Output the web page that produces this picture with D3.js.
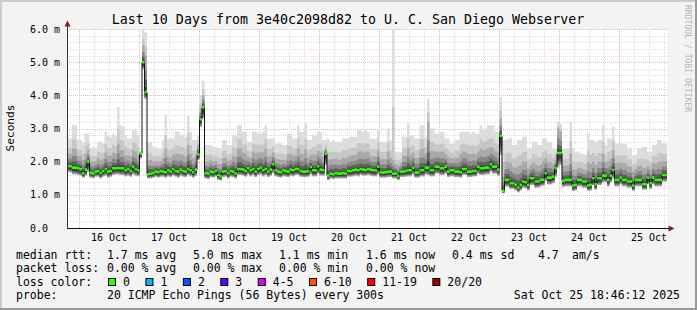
<!DOCTYPE html>
<html>
<head>
<meta charset="utf-8">
<title>smokeping 10 days</title>
<script src="https://cdn.jsdelivr.net/npm/d3@7"></script>
<style>
  body { margin: 0; background: #f3f3f3; }
  svg { display: block; font-family: "DejaVu Sans Mono", monospace; }
  .ylab, .xlab { font-size: 10px; fill: #000; }
  .legend text { font-size: 11.5px; fill: #000; }
</style>
</head>
<body>
<svg width="697" height="310"></svg>
<script>
var title = 'Last 10 Days from 3e40c2098d82 to U. C. San Diego Webserver';
var endTime = Date.UTC(2025, 9, 25, 19, 12);
var days = 10;

var yTicks = [0, 1, 2, 3, 4, 5, 6];
var yTickLabels = ['0.0', '1.0 m', '2.0 m', '3.0 m', '4.0 m', '5.0 m', '6.0 m'];
var xTickLabels = ['16 Oct', '17 Oct', '18 Oct', '19 Oct', '20 Oct', '21 Oct', '22 Oct', '23 Oct', '24 Oct', '25 Oct'];

// hourly median rtt (ms)
var median = [
  1.87,1.86,1.82,1.82,1.80,1.77,1.65,1.76,2.00,1.67,
  1.64,1.70,1.72,1.66,1.72,1.78,1.70,1.72,1.80,1.80,
  1.81,1.80,1.80,1.74,1.78,1.72,1.85,1.78,1.74,2.24,
  5.00,4.10,1.62,1.64,1.66,1.70,1.68,1.72,1.70,1.68,
  1.74,1.70,1.78,1.72,1.70,1.76,1.72,1.70,1.78,1.74,
  1.68,1.76,2.22,3.28,3.64,1.66,1.64,1.70,1.68,1.72,
  1.60,1.56,1.70,1.72,1.66,1.72,1.70,1.64,1.78,1.78,
  1.76,1.72,1.80,1.74,1.78,1.70,1.78,1.82,1.74,1.78,
  1.70,1.76,1.92,1.74,1.70,1.68,1.74,1.72,1.70,1.76,
  1.74,1.78,1.78,1.72,1.70,1.70,1.72,1.84,1.74,1.74,
  1.86,1.76,1.75,2.24,1.58,1.64,1.62,1.66,1.64,1.64,
  1.66,1.64,1.72,1.72,1.74,1.76,1.74,1.78,1.76,1.75,
  1.78,1.76,1.74,1.74,1.85,1.68,1.67,1.68,1.70,1.70,
  1.64,1.64,1.57,1.70,1.70,1.72,1.74,1.74,1.82,1.67,
  1.67,1.74,1.74,1.82,1.82,1.74,1.74,1.85,1.85,1.80,
  1.80,1.85,1.70,1.74,1.74,1.70,1.70,1.68,1.78,1.78,
  1.70,1.70,1.72,1.72,1.85,1.80,1.80,1.82,1.82,1.92,
  1.85,1.85,1.76,2.78,1.12,1.45,1.45,1.35,1.35,1.30,
  1.22,1.30,1.40,1.38,1.30,1.50,1.50,1.40,1.40,1.45,
  1.46,1.65,1.52,1.52,1.55,1.80,2.26,2.26,1.42,1.45,
  1.45,1.45,1.28,1.30,1.45,1.45,1.40,1.40,1.28,1.30,
  1.50,1.32,1.50,1.50,1.58,1.58,1.45,1.58,1.75,1.45,
  1.45,1.52,1.45,1.45,1.40,1.40,1.28,1.45,1.45,1.45,
  1.32,1.32,1.52,1.35,1.52,1.45,1.45,1.45,1.60,1.60
];

// fastest ping of each hour
var lo = [
  1.70,1.68,1.62,1.62,1.60,1.58,1.52,1.58,1.70,1.52,
  1.50,1.55,1.55,1.50,1.55,1.58,1.52,1.55,1.60,1.62,
  1.62,1.60,1.60,1.56,1.58,1.55,1.62,1.58,1.56,2.10,
  4.80,3.90,1.50,1.50,1.52,1.55,1.52,1.55,1.55,1.52,
  1.56,1.54,1.58,1.55,1.52,1.58,1.55,1.54,1.60,1.56,
  1.52,1.58,2.05,3.05,3.30,1.50,1.48,1.54,1.52,1.55,
  1.46,1.44,1.54,1.55,1.50,1.55,1.54,1.50,1.60,1.60,
  1.58,1.55,1.62,1.56,1.60,1.54,1.60,1.62,1.56,1.60,
  1.54,1.58,1.65,1.56,1.54,1.52,1.56,1.55,1.54,1.58,
  1.56,1.60,1.60,1.55,1.54,1.54,1.55,1.62,1.56,1.56,
  1.64,1.58,1.58,1.90,1.45,1.50,1.48,1.50,1.50,1.50,
  1.50,1.50,1.55,1.55,1.56,1.58,1.56,1.60,1.58,1.58,
  1.60,1.58,1.56,1.56,1.62,1.52,1.52,1.52,1.54,1.54,
  1.50,1.50,1.45,1.54,1.54,1.55,1.56,1.56,1.62,1.52,
  1.52,1.56,1.56,1.62,1.60,1.56,1.56,1.64,1.64,1.60,
  1.60,1.64,1.54,1.56,1.56,1.54,1.54,1.52,1.60,1.60,
  1.54,1.54,1.56,1.56,1.64,1.60,1.60,1.62,1.62,1.70,
  1.64,1.64,1.58,2.20,1.05,1.25,1.25,1.18,1.18,1.14,
  1.08,1.14,1.22,1.20,1.14,1.30,1.30,1.22,1.22,1.26,
  1.28,1.42,1.32,1.32,1.35,1.55,1.85,1.90,1.24,1.26,
  1.26,1.26,1.12,1.14,1.26,1.26,1.22,1.22,1.12,1.14,
  1.30,1.16,1.30,1.30,1.38,1.38,1.26,1.38,1.50,1.26,
  1.26,1.32,1.26,1.26,1.22,1.22,1.12,1.26,1.26,1.26,
  1.16,1.16,1.32,1.18,1.32,1.26,1.26,1.26,1.40,1.40
];

// upper edge of the dense smoke (approx. 16th of 20 pings)
var q80 = [
  2.25,2.24,2.40,2.38,2.18,2.17,2.05,2.24,2.35,2.02,
  2.00,2.02,2.10,2.05,2.08,2.28,2.18,2.18,2.28,2.25,
  2.55,2.35,2.35,2.20,2.20,2.15,2.35,2.30,2.20,2.28,
  5.50,5.20,2.05,2.05,2.00,2.02,2.00,2.02,2.10,2.40,
  2.15,2.12,2.20,2.25,2.22,2.22,2.20,2.15,2.50,2.25,
  2.10,2.15,2.50,3.60,4.00,2.00,2.00,2.05,2.00,2.02,
  1.95,1.92,2.10,2.12,2.02,2.05,2.18,2.15,2.40,2.40,
  2.28,2.25,2.15,2.12,2.30,2.25,2.28,2.30,2.28,2.40,
  2.15,2.18,2.28,2.10,2.08,2.05,2.05,2.05,2.22,2.25,
  2.18,2.20,2.40,2.25,2.22,2.38,2.12,2.20,2.22,2.22,
  2.33,2.28,2.15,2.40,2.05,2.08,2.08,2.08,2.06,2.06,
  2.12,2.10,2.15,2.18,2.20,2.20,2.30,2.32,2.28,2.30,
  2.30,2.18,2.16,2.16,2.35,2.08,2.08,2.08,2.30,2.12,
  2.05,1.92,1.88,1.95,2.18,2.18,2.40,2.22,2.28,2.12,
  2.12,2.38,2.38,2.25,3.20,2.32,2.32,2.30,2.30,2.30,
  2.30,2.22,2.15,2.10,2.10,2.12,2.12,2.25,2.30,2.30,
  2.25,2.22,2.25,2.22,2.30,2.40,2.35,2.36,2.40,2.45,
  2.42,2.32,2.28,3.30,1.55,1.98,2.00,1.95,1.85,1.82,
  1.88,1.90,2.00,2.00,1.80,1.90,1.98,1.92,1.88,1.92,
  2.02,2.12,2.00,2.00,1.92,2.05,3.00,2.90,1.88,1.88,
  1.88,2.25,1.78,1.75,1.82,1.80,1.78,1.75,2.00,1.92,
  2.00,1.90,2.00,2.00,2.25,1.98,2.02,2.08,2.35,1.95,
  1.95,1.98,1.95,1.95,1.85,1.85,1.70,1.78,1.88,1.88,
  1.82,1.82,1.88,1.78,1.95,1.92,2.00,2.00,2.02,2.02
];

// slowest ping of each hour
var hi = [
  2.70,2.70,3.10,3.10,2.65,2.65,2.56,2.86,2.86,2.40,
  2.45,2.40,2.60,2.60,2.55,2.90,2.80,2.75,2.85,2.80,
  3.65,3.10,3.05,2.80,2.70,2.70,2.95,2.95,2.80,2.32,
  6.00,5.90,2.60,2.60,2.45,2.45,2.40,2.40,2.65,3.40,
  2.70,2.70,2.70,2.90,2.90,2.80,2.80,2.75,3.40,2.90,
  2.65,2.65,2.80,4.00,4.45,2.50,2.50,2.50,2.45,2.45,
  2.40,2.40,2.65,2.65,2.50,2.50,2.80,2.80,3.10,3.10,
  2.90,2.90,2.60,2.60,2.90,2.90,2.85,2.85,2.90,3.10,
  2.70,2.70,2.70,2.55,2.55,2.55,2.50,2.50,2.85,2.85,
  2.70,2.70,3.10,2.90,2.90,3.15,2.65,2.65,2.80,2.80,
  2.90,2.90,2.65,2.65,2.70,2.60,2.65,2.60,2.60,2.60,
  2.70,2.70,2.70,2.75,2.75,2.75,2.95,2.95,2.90,2.95,
  2.90,2.70,2.70,2.70,2.95,2.60,2.60,2.60,3.00,2.65,
  6.00,2.30,2.30,2.30,2.75,2.75,3.15,2.80,2.80,2.70,
  2.70,3.10,3.10,2.75,3.90,3.00,3.00,2.85,2.85,2.90,
  2.90,2.70,2.70,2.55,2.55,2.65,2.65,2.90,2.90,2.90,
  2.90,2.85,2.90,2.85,2.85,3.10,3.00,3.00,3.10,3.10,
  3.10,2.90,2.90,3.95,2.65,2.65,2.70,2.70,2.50,2.50,
  2.65,2.65,2.75,2.75,2.40,2.40,2.60,2.60,2.50,2.50,
  2.70,2.70,2.60,2.60,2.40,2.40,3.20,3.15,2.40,2.40,
  2.40,3.20,2.40,2.30,2.30,2.25,2.25,2.20,2.85,2.65,
  2.65,2.60,2.65,2.65,3.10,2.50,2.70,2.70,3.05,2.55,
  2.55,2.55,2.55,2.55,2.40,2.40,2.20,2.20,2.40,2.40,
  2.45,2.45,2.30,2.30,2.50,2.50,2.65,2.65,2.55,2.55
];

var statRows = [
  ['median rtt:', '1.7 ms avg', '5.0 ms max', '1.1 ms min', '1.6 ms now', '0.4 ms sd', '4.7', 'am/s'],
  ['packet loss:', '0.00 % avg', '0.00 % max', '0.00 % min', '0.00 % now']
];
var lossLabels = ['0', '1', '2', '3', '4-5', '6-10', '11-19', '20/20'];
var lossColors = ['#26ff00', '#00b8ff', '#0059ff', '#5e00ff', '#dd00ff', '#ff5500', '#ff0000', '#a10000'];
var probeText = '20 ICMP Echo Pings (56 Bytes) every 300s';
var stampText = 'Sat Oct 25 18:46:12 2025';

var svg = d3.select('svg');
var W = 697, H = 310;
var plotL = 67, plotR = 667, plotT = 29, plotB = 228;
var startTime = endTime - days * 864e5;
var hour = 36e5;

var x = d3.scaleUtc().domain([new Date(startTime), new Date(endTime)]).range([plotL, plotR]);
var y = d3.scaleLinear().domain([0, 6]).range([plotB, plotT]);

// frame
svg.append('rect').attr('width', W).attr('height', H).attr('fill', '#f3f3f3');
svg.append('path').attr('d', 'M0,1H' + W + 'M1,0V' + H).attr('stroke', '#cbcbcb').attr('stroke-width', 2);
svg.append('path').attr('d', 'M0,' + (H - 1) + 'H' + W + 'M' + (W - 1) + ',0V' + H).attr('stroke', '#999').attr('stroke-width', 2);

svg.append('rect').attr('x', plotL).attr('y', plotT)
  .attr('width', plotR - plotL + 1).attr('height', plotB - plotT).attr('fill', '#fff');

// grid
var grid = svg.append('g').attr('shape-rendering', 'crispEdges').attr('stroke-dasharray', '1,1');
var minorY = d3.range(0, 6.01, 0.2).filter(function(v){ return Math.abs(v - Math.round(v)) > 0.01; });
grid.selectAll('.gy').data(minorY).enter().append('line')
  .attr('x1', plotL).attr('x2', plotR + 1)
  .attr('y1', function(d){ return Math.round(y(d)) + 0.5; })
  .attr('y2', function(d){ return Math.round(y(d)) + 0.5; })
  .attr('stroke', '#dedede');
var sixHours = d3.utcHour.every(6).range(new Date(startTime), new Date(endTime));
grid.selectAll('.gx').data(sixHours.filter(function(d){ return d.getUTCHours() !== 0; })).enter().append('line')
  .attr('y1', plotT).attr('y2', plotB)
  .attr('x1', function(d){ return Math.round(x(d)) + 0.5; })
  .attr('x2', function(d){ return Math.round(x(d)) + 0.5; })
  .attr('stroke', '#dedede');
grid.selectAll('.my').data(yTicks.slice(1)).enter().append('line')
  .attr('x1', plotL).attr('x2', plotR + 1)
  .attr('y1', function(d){ return Math.round(y(d)) + 0.5; })
  .attr('y2', function(d){ return Math.round(y(d)) + 0.5; })
  .attr('stroke', '#e3b6b6');
var midnights = d3.utcDay.range(new Date(startTime), new Date(endTime));
grid.selectAll('.mx').data(midnights).enter().append('line')
  .attr('y1', plotT).attr('y2', plotB)
  .attr('x1', function(d){ return Math.round(x(d)) + 0.5; })
  .attr('x2', function(d){ return Math.round(x(d)) + 0.5; })
  .attr('stroke', '#e3b6b6');

// smoke
var idx = d3.range(median.length + 1);
function at(arr, i){ return arr[Math.min(i, arr.length - 1)]; }
function tx(i){ return x(new Date(startTime + i * hour)); }
var layers = [
  ['#dddddd', function(i){ return at(lo, i); }, function(i){ return at(hi, i); }],
  ['#c7c7c7', function(i){ return at(lo, i); }, function(i){ return at(q80, i) + 0.4 * (at(hi, i) - at(q80, i)); }],
  ['#a9a9a9', function(i){ return at(lo, i); }, function(i){ return at(q80, i); }],
  ['#868686', function(i){ return at(lo, i) + 0.15 * (at(median, i) - at(lo, i)); }, function(i){ return at(median, i) + 0.6 * (at(q80, i) - at(median, i)); }],
  ['#606060', function(i){ return at(lo, i) + 0.3 * (at(median, i) - at(lo, i)); }, function(i){ return at(median, i) + 0.33 * (at(q80, i) - at(median, i)); }],
  ['#3c3c3c', function(i){ return at(lo, i) + 0.5 * (at(median, i) - at(lo, i)); }, function(i){ return at(median, i) + 0.14 * (at(q80, i) - at(median, i)); }]
];
var smoke = svg.append('g');
layers.forEach(function(l){
  var area = d3.area().curve(d3.curveStepAfter)
    .x(function(i){ return tx(i); })
    .y0(function(i){ return y(l[1](i)); })
    .y1(function(i){ return y(l[2](i)); });
  smoke.append('path').datum(idx).attr('d', area).attr('fill', l[0]);
});

// median line
var medLine = d3.line().curve(d3.curveStepAfter)
  .x(function(i){ return tx(i); })
  .y(function(i){ return y(at(median, i)); });
svg.append('path').datum(idx).attr('d', medLine)
  .attr('fill', 'none').attr('stroke', '#111').attr('stroke-width', 1);
var greenPath = median.map(function(d, i){
  return 'M' + tx(i) + ',' + y(d) + 'H' + tx(i + 1);
}).join('');
svg.append('path').attr('d', greenPath).attr('fill', 'none')
  .attr('stroke', lossColors[0]).attr('stroke-width', 2.6);

// axes
svg.append('path').attr('d', 'M' + (plotL + 0.5) + ',' + plotB + 'V26')
  .attr('stroke', '#333').attr('shape-rendering', 'crispEdges');
svg.append('path').attr('d', 'M' + plotL + ',' + (plotB + 0.5) + 'H669')
  .attr('stroke', '#111').attr('shape-rendering', 'crispEdges');
svg.append('path').attr('d', 'M67.5,20.5L70.5,26.5L64.5,26.5Z').attr('fill', '#7f1f1f');
svg.append('path').attr('d', 'M674.5,228.5L668.5,225.5L668.5,231.5Z').attr('fill', '#7f1f1f');

// axis labels
svg.selectAll('.ylab').data(yTicks).enter().append('text')
  .attr('class', 'ylab').attr('x', 30).attr('y', function(d){ return y(d) + 3.5; })
  .text(function(d, i){ return yTickLabels[i]; });
svg.selectAll('.xlab').data(midnights.slice(0, xTickLabels.length)).enter().append('text')
  .attr('class', 'xlab').attr('text-anchor', 'middle')
  .attr('x', function(d){ return x(d3.utcHour.offset(d, 12)); })
  .attr('y', 241)
  .text(function(d, i){ return xTickLabels[i]; });

svg.append('text').attr('x', 348).attr('y', 24).attr('text-anchor', 'middle')
  .style('font-size', '13.3px').text(title);
svg.append('text').attr('transform', 'translate(14,128) rotate(-90)').attr('text-anchor', 'middle')
  .style('font-size', '11.2px').text('Seconds');
svg.append('text').attr('transform', 'translate(685,5) rotate(90)')
  .style('font-size', '8.1px').attr('fill', '#b4b4b4').text('RRDTOOL / TOBI OETIKER');

// legend
var legend = svg.append('g').attr('class', 'legend');
var colX = [16, 107, 193, 279, 366, 452, 538, 572];
var rowY = [258.5, 272, 285.5, 299];
statRows.forEach(function(row, r){
  row.forEach(function(t, c){
    legend.append('text').attr('x', colX[c]).attr('y', rowY[r]).text(t);
  });
});
legend.append('text').attr('x', 16).attr('y', rowY[2]).text('loss color:');
var bx = 108;
lossLabels.forEach(function(lab, i){
  legend.append('rect').attr('x', bx + 0.5).attr('y', 278.5).attr('width', 7).attr('height', 7)
    .attr('fill', lossColors[i]).attr('stroke', '#000');
  var t = legend.append('text').attr('x', bx + 15).attr('y', rowY[2]).text(lab);
  bx = bx + 15 + t.node().getComputedTextLength() + 15.5;
});
legend.append('text').attr('x', 16).attr('y', rowY[3]).text('probe:');
legend.append('text').attr('x', 107).attr('y', rowY[3]).text(probeText);
legend.append('text').attr('x', 680).attr('y', rowY[3]).attr('text-anchor', 'end').text(stampText);
</script>
</body>
</html>
